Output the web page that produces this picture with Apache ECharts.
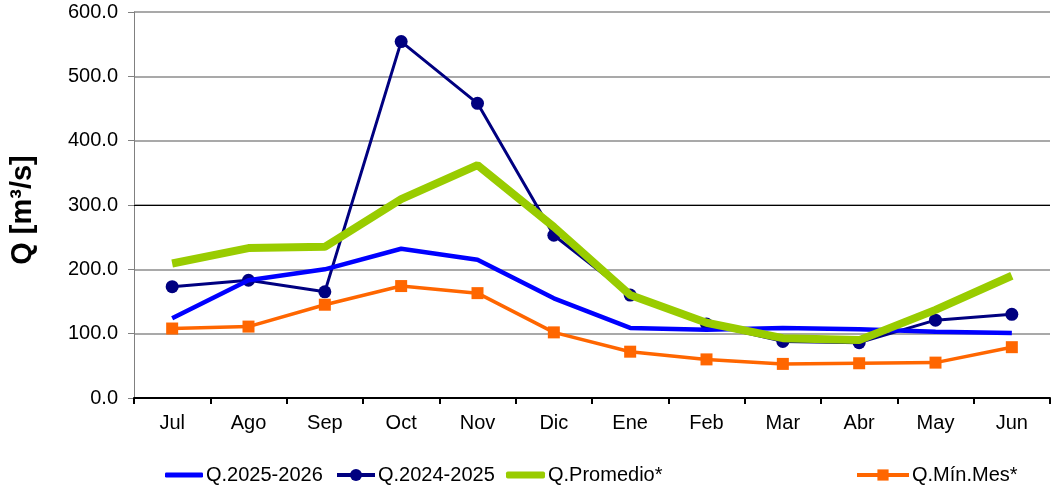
<!DOCTYPE html>
<html>
<head>
<meta charset="utf-8">
<script src="https://cdn.jsdelivr.net/npm/echarts@6/dist/echarts.min.js"></script>
<style>html,body{margin:0;padding:0;background:#fff}#c{width:1057px;height:487px}</style>
</head>
<body>
<div id="c"></div>
<script>
const months = ['Jul','Ago','Sep','Oct','Nov','Dic','Ene','Feb','Mar','Abr','May','Jun'];
const q2526 = [124, 183, 200, 232, 215, 155, 109, 106, 109, 107, 103, 101];
const q2425 = [173, 183, 165, 554, 458, 253, 160, 115, 88, 86, 121, 130];
const qProm = [209, 233, 235, 309, 362, 266, 160, 117, 93, 90, 137, 190];
const qMin  = [108, 111, 145, 174, 163, 102, 72, 60, 53, 54, 55, 79];
const yTicks = {min: 0, max: 600, interval: 100};

const font = 'Liberation Sans, Arial, sans-serif';
const chart = echarts.init(document.getElementById('c'));
function leg(item, left, w, h, lw){
  return {data:[item], left: left, top: 460, itemWidth: w, itemHeight: h, itemGap: 4,
    lineStyle:{width: lw},
    textStyle:{fontFamily:font, fontSize:20, color:'#000', padding:[0,0,0,-2]}, selectedMode:false};
}
chart.setOption({
  animation:false,
  legend:[
    leg({name:'Q.2025-2026', icon:'roundRect'},160,38,5,4),
    leg('Q.2024-2025',330,38,15,4),
    leg({name:'Q.Promedio*', icon:'roundRect'},501,39,7,7),
    leg('Q.Mín.Mes*',850,52,14,4)
  ],
  grid:{left:134, right:7, top:12, bottom:89, containLabel:false, outerBoundsMode:'none'},
  xAxis:{type:'category', data:months, boundaryGap:true,
    axisLine:{lineStyle:{color:'#000', width:2}},
    axisTick:{show:true, length:6, lineStyle:{color:'#000', width:2}},
    axisLabel:{fontFamily:font, fontSize:20, color:'#000', margin:15},
    splitLine:{show:false}},
  yAxis:{type:'value', min:yTicks.min, max:yTicks.max, interval:yTicks.interval,
    name:'Q [m³/s]', nameLocation:'middle', nameGap:97, nameRotate:90,
    nameTextStyle:{fontFamily:font, fontSize:29, fontWeight:'bold', color:'#000', padding:[0,10,0,0]},
    axisLine:{show:true, lineStyle:{color:'#808080', width:1}},
    axisTick:{show:true, length:6, lineStyle:{color:'#808080'}},
    axisLabel:{fontFamily:font, fontSize:20, color:'#000', margin:16, formatter:v=>v.toFixed(1)},
    splitLine:{show:true, lineStyle:{color:'#8c8c8c', width:1.5}}},
  series:[
    {name:'Q.2024-2025', type:'line', data:q2425, symbol:'circle', symbolSize:13,
      lineStyle:{color:'#000080', width:3}, itemStyle:{color:'#000080'}, z:2,
      markLine:{silent:true, symbol:'none', label:{show:false}, data:[{yAxis:300}], lineStyle:{color:'#000', width:1, type:'solid'}, z:1}},
    {name:'Q.2025-2026', type:'line', data:q2526, symbol:'none',
      lineStyle:{color:'#0000FF', width:4.5}, itemStyle:{color:'#0000FF'}, z:3},
    {name:'Q.Mín.Mes*', type:'line', data:qMin, symbol:'rect', symbolSize:12,
      lineStyle:{color:'#FF6600', width:3.5}, itemStyle:{color:'#FF6600'}, z:3},
    {name:'Q.Promedio*', type:'line', data:qProm, symbol:'none',
      lineStyle:{color:'#99CC00', width:8}, itemStyle:{color:'#99CC00'}, z:4}
  ]
});
</script>
</body>
</html>
